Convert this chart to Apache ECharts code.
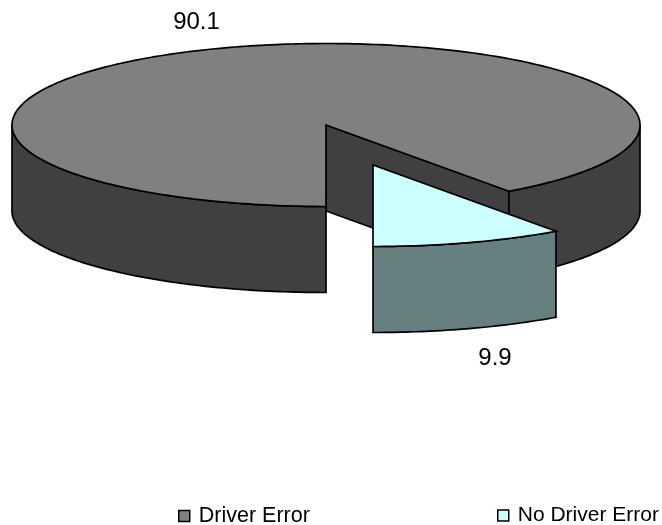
<!DOCTYPE html>
<html>
<head>
<meta charset="utf-8">
<style>html,body{margin:0;padding:0;background:#fff}#c{width:662px;height:525px}</style>
<script src="https://cdn.jsdelivr.net/npm/echarts@6/dist/echarts.min.js"></script>
</head>
<body>
<div id="c"></div>
<script>
const categories = ['Driver Error', 'No Driver Error'];
const values = [90.1, 9.9];
const labels = ['90.1', '9.9'];

const chart = echarts.init(document.getElementById('c'));
const F = 'Liberation Sans, Arial, sans-serif';
const cx = 326, cy = 125, rx = 314, ry = 81.5, depth = 86;
const slice = { dx: 47, dy: 40 };
const total = values[0] + values[1];
const cut = values[1] / total * 2 * Math.PI;
const line = { stroke: '#000', lineWidth: 1.7, lineJoin: 'miter' };

function pt(a, ox, oy, d) {
  return [cx + ox + rx * Math.sin(a), cy + oy + ry * Math.cos(a) + (d || 0)];
}
function arc(a0, a1, ox, oy, d) {
  const n = Math.max(2, Math.round((a1 - a0) * 60)), out = [];
  for (let i = 0; i <= n; i++) out.push(pt(a0 + (a1 - a0) * i / n, ox, oy, d));
  return out;
}
function wallShape(a0, a1, ox, oy, fill) {
  return { type: 'polygon',
    shape: { points: arc(a0, a1, ox, oy, 0).concat(arc(a0, a1, ox, oy, depth).reverse()) },
    style: Object.assign({ fill }, line) };
}
function topShape(a0, a1, ox, oy, fill) {
  return { type: 'polygon',
    shape: { points: [[cx + ox, cy + oy]].concat(arc(a0, a1, ox, oy, 0)) },
    style: Object.assign({ fill }, line) };
}
function textShape(str, x, y) {
  return { type: 'text', x, y,
    style: { text: str, fill: '#000', font: '24px ' + F, textAlign: 'center', textVerticalAlign: 'middle' } };
}
function renderMain(params, api) {
  const a0 = cut, a1 = 2 * Math.PI;
  const e = pt(a0, 0, 0, 0);
  return { type: 'group', children: [
    { type: 'polygon',
      shape: { points: [[cx, cy], e, [e[0], e[1] + depth], [cx, cy + depth]] },
      style: Object.assign({ fill: '#404040' }, line) },
    wallShape(a0, Math.PI / 2, 0, 0, '#404040'),
    wallShape(1.5 * Math.PI, a1, 0, 0, '#404040'),
    topShape(a0, a1, 0, 0, api.visual('color')),
    textShape(labels[0], 196.5, 22)
  ]};
}
function renderSlice(params, api) {
  return { type: 'group', children: [
    wallShape(0, cut, slice.dx, slice.dy, '#668080'),
    topShape(0, cut, slice.dx, slice.dy, api.visual('color')),
    textShape(labels[1], 495, 358)
  ]};
}
function legendFor(left, name, size) {
  return {
    top: 500, left, itemWidth: 11, itemHeight: 11, icon: 'rect', data: [name],
    textStyle: { fontFamily: F, fontSize: size, color: '#000', padding: [0, 0, 0, 4] },
    itemStyle: { borderColor: '#000', borderWidth: 1.5 },
    selectedMode: false
  };
}
chart.setOption({
  animation: false,
  backgroundColor: '#fff',
  legend: [
    legendFor(173, categories[0], 21.5),
    legendFor(492, categories[1], 21)
  ],
  series: [
    { type: 'custom', name: categories[0], coordinateSystem: 'none', silent: true,
      itemStyle: { color: '#808080' }, data: [values[0]], renderItem: renderMain, z: 1 },
    { type: 'custom', name: categories[1], coordinateSystem: 'none', silent: true,
      itemStyle: { color: '#CCFFFF' }, data: [values[1]], renderItem: renderSlice, z: 2 }
  ]
});
</script>
</body>
</html>
